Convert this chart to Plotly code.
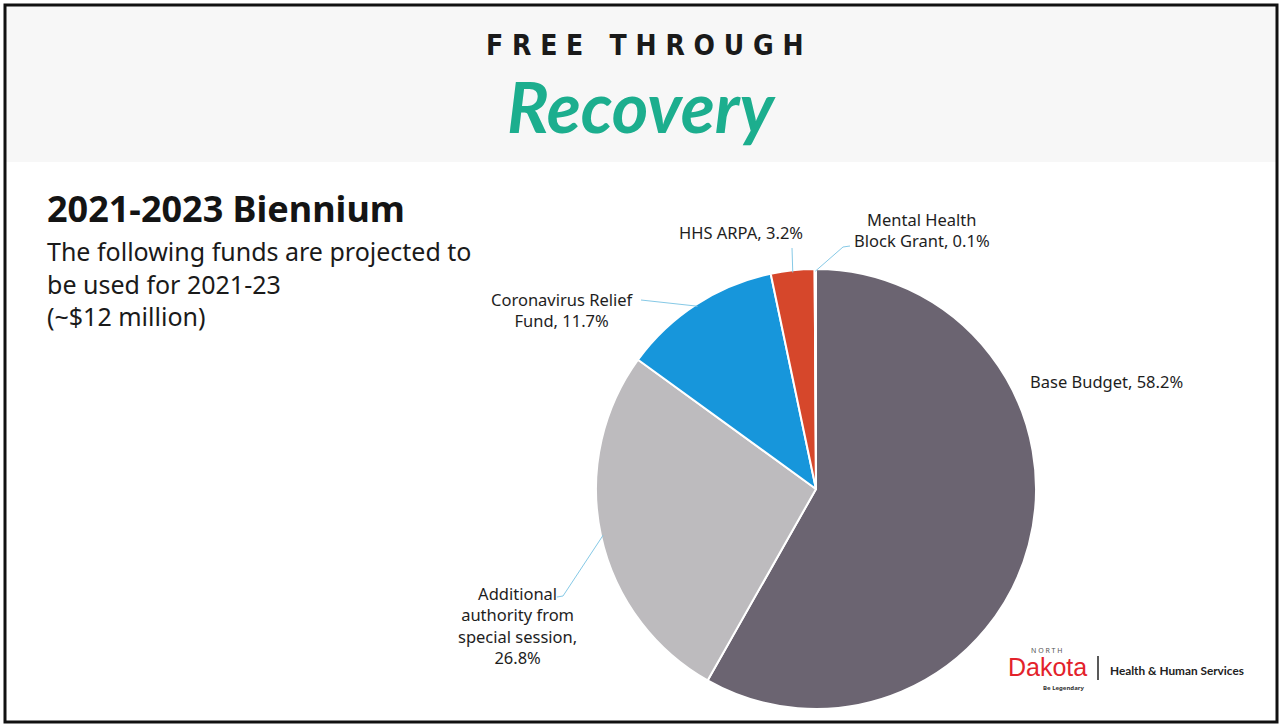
import math
import plotly.graph_objects as go

W, H = 1281, 726

# ---- data ----
categories = ["Base Budget", "Additional authority from special session",
              "Coronavirus Relief Fund", "HHS ARPA", "Mental Health Block Grant"]
shares = [58.2, 26.8, 11.7, 3.2, 0.1]
colors = ["#6B6471", "#BDBBBE", "#1796DB", "#D6472B", "#4A4A4A"]
label_texts = ["Base Budget, 58.2%",
               "Additional<br>authority from<br>special session,<br>26.8%",
               "Coronavirus Relief<br>Fund, 11.7%",
               "HHS ARPA, 3.2%",
               "Mental Health<br>Block Grant, 0.1%"]

# ---- layout geometry (pixels) ----
CX, CY, R = 816, 489, 220
def px(x):
    return x / W
def py(y):
    return 1 - y / H

fig = go.Figure()
fig.add_trace(go.Pie(
    labels=categories, values=shares, sort=False, direction="clockwise",
    rotation=0, marker=dict(colors=colors, line=dict(color="white", width=2)),
    textinfo="none", hoverinfo="label+percent", showlegend=False,
    domain=dict(x=[px(CX - R), px(CX + R)], y=[py(CY + R), py(CY - R)]),
))

# mid angles of slices (clockwise from 12 o'clock), derived from data
total = sum(shares)
mids = []
acc = 0
for v in shares:
    mids.append((acc + v / 2) / total * 360)
    acc += v

def edge(i, rf=1.0):
    t = math.radians(mids[i])
    return CX + R * rf * math.sin(t), CY - R * rf * math.cos(t)

def text_ann(x, y, text, font, xanchor="center", yanchor="middle", align="center"):
    return dict(x=px(x), y=py(y), xref="paper", yref="paper", text=text,
                showarrow=False, font=font, xanchor=xanchor, yanchor=yanchor,
                align=align)

font_lbl = dict(family="Noto Sans", size=16.5, color="#1E1E1E")
ann = []
placements = [
    (1106, 381, None),
    (517, 625, [(557, 597), (563, 596)]),
    (562, 310, [(641, 300)]),
    (741, 232, [(792, 248)]),
    (922, 230, [(850, 246), (843, 247)]),
]
shapes = []
for i, (x, y, pts) in enumerate(placements):
    ann.append(text_ann(x, y, label_texts[i], font_lbl))
    if pts:
        ex, ey = edge(i, 0.99)
        seq = pts + [(ex, ey)]
        for (a, b), (c, d) in zip(seq[:-1], seq[1:]):
            shapes.append(dict(type="line", xref="paper", yref="paper",
                               x0=px(a), y0=py(b), x1=px(c), y1=py(d),
                               line=dict(color="#86C9E6", width=1)))

# header band and frame
shapes.insert(0, dict(type="rect", xref="paper", yref="paper", x0=px(5), x1=px(1277),
                      y0=py(162), y1=py(5), fillcolor="#F7F7F7", line=dict(width=0),
                      layer="below"))
shapes.append(dict(type="rect", xref="paper", yref="paper", x0=px(5), x1=px(1277),
                   y0=py(722), y1=py(5), line=dict(color="#111111", width=3)))
# logo separator
shapes.append(dict(type="line", xref="paper", yref="paper", x0=px(1098), x1=px(1098),
                   y0=py(680), y1=py(656), line=dict(color="#222222", width=1.5)))

# header texts
ann.append(text_ann(645, 45, "F R E E   T H R O U G H",
                    dict(family="DejaVu Sans Condensed, DejaVu Sans",
                         size=28, color="#1A1A1A", weight="bold")))
ann.append(text_ann(642, 106, "Recovery",
                    dict(family="Lato", size=70, color="#1CAE8E", weight="bold",
                         style="italic")))

# left text block
ann.append(text_ann(45, 209, "<b>2021-2023 Biennium</b>",
                    dict(family="Noto Sans", size=36, color="#141414"), xanchor="left"))
ann.append(text_ann(45, 283,
                    "The following funds are projected to<br>be used for 2021-23<br>(~$12 million)",
                    dict(family="Noto Sans", size=25, color="#1A1A1A"),
                    xanchor="left", align="left"))

# logo
ann.append(text_ann(1047, 650, "N O R T H", dict(family="Noto Sans", size=7, color="#555555")))
ann.append(text_ann(1047, 667, "Dakota", dict(family="Liberation Sans", size=25, color="#E3222B")))
ann.append(text_ann(1063, 688, "<b>Be Legendary</b>", dict(family="Noto Sans", size=6, color="#333333")))
ann.append(text_ann(1108, 670, "<b>Health & Human Services</b>",
                    dict(family="Lato", size=11.8, color="#222222"), xanchor="left"))

fig.update_layout(width=W, height=H, margin=dict(l=0, r=0, t=0, b=0),
                  paper_bgcolor="white", plot_bgcolor="white",
                  annotations=ann, shapes=shapes)
fig.write_html("out.html", post_script="document.body.style.margin='0px';",
               config={"displayModeBar": False})
